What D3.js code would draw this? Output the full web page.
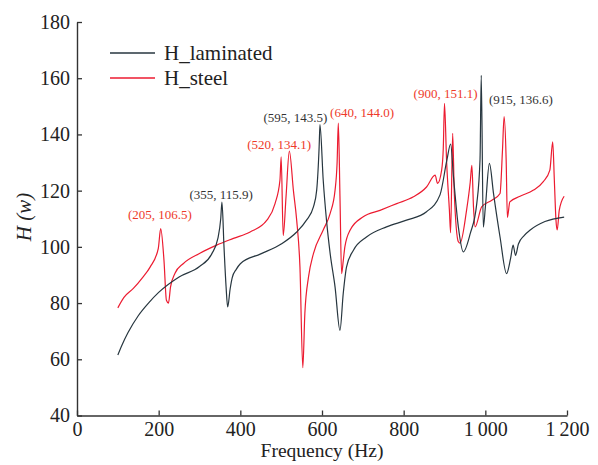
<!DOCTYPE html>
<html>
<head>
<meta charset="utf-8">
<script src="https://cdn.jsdelivr.net/npm/d3@7"></script>
<style>
  body { margin: 0; background: #fff; }
  svg text { font-family: "Liberation Serif", "Times New Roman", serif; }
</style>
</head>
<body>
<svg id="vis" width="598" height="465"></svg>
<script>
// laminated curve (black)
const lamFreq = [100, 110, 125, 150, 175, 200, 250, 300, 330, 345, 352, 355, 360, 365, 369, 375, 380, 390, 400, 450, 500, 538, 562, 579, 587, 593, 595, 603, 611, 620, 632, 644, 652, 660, 677, 709, 758, 807, 856, 889, 906, 915, 922, 934, 946, 963, 979, 987, 990, 995, 1000, 1010, 1020, 1036, 1052, 1062, 1068, 1074, 1081, 1095, 1110, 1146, 1193]
const lamVal  = [61.5, 65, 69.5, 75.5, 80, 83.8, 89.3, 93, 97.5, 103, 110, 115.9, 100, 86, 78.6, 85, 89, 92, 94, 97.5, 101, 105.3, 109.5, 114.2, 120.2, 135.6, 143.5, 123.7, 109.5, 97.6, 85.7, 70.3, 83.4, 92.8, 98.8, 103.5, 107.1, 109.5, 112.5, 118.5, 131, 136.6, 124.9, 107, 98.2, 104.7, 115.4, 131, 161, 107, 114, 129.7, 119, 103.5, 90.5, 96, 100.6, 97, 101, 104, 106, 109, 110.6]

// steel curve (red)
const steelFreq = [100, 115, 138, 160, 179, 199, 205, 213, 219, 224, 229, 240, 260, 301, 342, 383, 424, 465, 485, 497, 500, 505, 512, 520, 530, 538, 546, 553, 558, 567, 579, 603, 620, 632, 637, 640, 644, 648, 652, 656, 669, 701, 742, 783, 824, 856, 877, 883, 893, 897, 900, 905, 912, 915, 920, 924, 934, 938, 954, 963, 967, 971, 975, 991, 1016, 1036, 1042, 1046, 1051, 1054, 1060, 1085, 1118, 1142, 1158, 1165, 1169, 1173, 1176, 1181, 1193]
const steelVal  = [78.3, 82, 85.2, 89, 92.8, 99.4, 106.5, 95.2, 81, 80, 85.7, 90.6, 94, 97.7, 100.6, 103, 105.3, 109.5, 115.4, 123.7, 132, 104, 118, 134.1, 120, 109.5, 92.8, 57, 76.3, 89.3, 97.6, 106, 111.9, 120.2, 130, 144, 118, 90.5, 95, 100, 106, 110.7, 113, 115.4, 117.8, 121.3, 125.5, 122.6, 127.3, 135, 151.1, 131, 113, 105, 140.4, 119, 101.8, 101.3, 113, 123, 129, 114.2, 107.1, 114.2, 116.6, 119, 134.4, 146.3, 131, 110.5, 116, 118, 120.2, 123.2, 127.3, 137.4, 123.7, 109.5, 106, 113, 118]

const seriesNames = ["H_laminated", "H_steel"]
const seriesColors = ["#27363f", "#ec1b30"]

const xTicks = [0, 200, 400, 600, 800, 1000, 1200]
const xTickLabels = ["0", "200", "400", "600", "800", "1\u2009000", "1\u2009200"]
const yTicks = [40, 60, 80, 100, 120, 140, 160, 180]

// peak annotations
const noteText = ["(205, 106.5)", "(355, 115.9)", "(520, 134.1)", "(595, 143.5)", "(640, 144.0)", "(900, 151.1)", "(915, 136.6)"]
const noteSeries = [1, 0, 1, 0, 1, 1, 0]
// where each label sits, in data units
const noteAtF = [203, 353, 495, 535, 698, 902.5, 1087]
const noteAtV = [109.8, 117, 134.8, 144.4, 146.2, 152.9, 151]

const serif = "'Liberation Serif', 'Times New Roman', serif"
const svg = d3.select("#vis")

const x = d3.scaleLinear().domain([0, 1200]).range([77, 567])
const y = d3.scaleLinear().domain([40, 180]).range([415.5, 22])

// axes
const xAxis = d3.axisBottom(x).tickValues(xTicks)
    .tickFormat((d, i) => xTickLabels[i])
    .tickSizeInner(-5).tickSizeOuter(0).tickPadding(6)
const yAxis = d3.axisLeft(y).tickValues(yTicks)
    .tickSizeInner(-5).tickSizeOuter(0).tickPadding(7)

const gx = svg.append("g").attr("transform", "translate(0,415.5)").call(xAxis)
const gy = svg.append("g").attr("transform", "translate(77,0)").call(yAxis)

for (const g of [gx, gy]) {
    g.attr("font-family", serif).attr("font-size", 20)
    g.select(".domain").attr("stroke", "#333").attr("stroke-width", 1.4)
    g.selectAll(".tick line").attr("stroke", "#333").attr("stroke-width", 1.3)
    g.selectAll(".tick text").attr("fill", "#222")
        .style("font-family", serif).style("font-size", "20px")
}
gx.selectAll(".tick text").attr("dy", "0.72em")

svg.append("text")
    .attr("x", x(600)).attr("y", 457)
    .attr("text-anchor", "middle")
    .style("font-family", serif)
    .style("font-size", "19.5px").attr("fill", "#222")
    .text("Frequency (Hz)")

svg.append("text")
    .attr("transform", "translate(31,217) rotate(-90)")
    .attr("text-anchor", "middle")
    .style("font-family", serif)
    .style("font-size", "21px").style("font-style", "italic").attr("fill", "#222")
    .text("H (w)")

// curves
const line = d3.line()
    .x(d => x(d[0]))
    .y(d => y(d[1]))
    .curve(d3.curveMonotoneX)

const lamData = lamFreq.map((f, i) => [f, lamVal[i]])
const steelData = steelFreq.map((f, i) => [f, steelVal[i]])

svg.append("path")
    .datum(steelData)
    .attr("fill", "none")
    .attr("stroke", seriesColors[1])
    .attr("stroke-width", 1.2)
    .attr("d", line)

svg.append("path")
    .datum(lamData)
    .attr("fill", "none")
    .attr("stroke", seriesColors[0])
    .attr("stroke-width", 1.2)
    .attr("d", line)

// annotations
svg.selectAll(".note")
    .data(noteText)
    .join("text")
    .attr("class", "note")
    .attr("x", (d, i) => x(noteAtF[i]))
    .attr("y", (d, i) => y(noteAtV[i]))
    .attr("text-anchor", "middle")
    .style("font-family", serif)
    .style("font-size", "13px")
    .attr("fill", (d, i) => noteSeries[i] === 1 ? "#ee3a2a" : "#333")
    .text(d => d)

// legend
const legend = svg.selectAll(".legend")
    .data(seriesNames)
    .join("g")
    .attr("class", "legend")
    .attr("transform", (d, i) => `translate(110,${53 + i * 25})`)

legend.append("line")
    .attr("x1", 0).attr("x2", 45)
    .attr("stroke", (d, i) => seriesColors[i])
    .attr("stroke-width", 1.6)

legend.append("text")
    .attr("x", 54).attr("y", 7)
    .style("font-family", serif)
    .style("font-size", "21px").attr("fill", "#222")
    .text(d => d)
</script>
</body>
</html>
